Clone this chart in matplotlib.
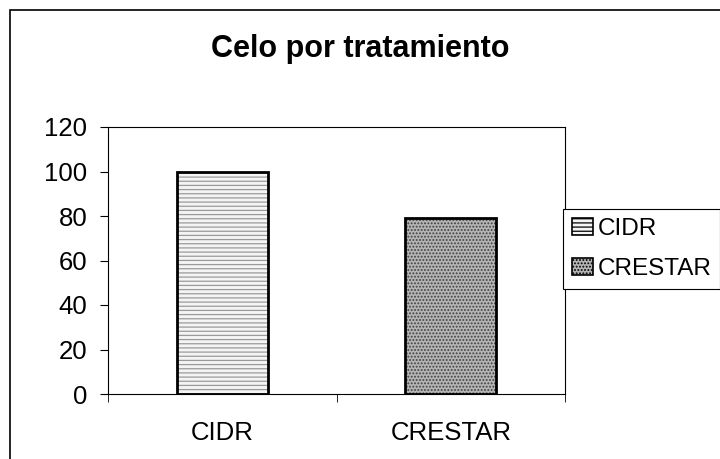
import matplotlib.pyplot as plt
from matplotlib.patches import Rectangle

categories = ['CIDR', 'CRESTAR']
values = [100, 79]
yticks = [0, 20, 40, 60, 80, 100, 120]

plt.rcParams['font.family'] = ['Liberation Sans', 'DejaVu Sans']
plt.rcParams['hatch.linewidth'] = 0.9

fig = plt.figure(figsize=(7.2, 4.59), dpi=100)
ax = fig.add_axes([108 / 720, 1 - 394 / 459, 457 / 720, 267 / 459])

x = [0, 1]
# hatched fills, then black outlines on top
ax.bar(x[0], values[0], width=0.4, color='#f4f4f4', edgecolor='#9a9a9a',
       hatch='----', linewidth=0, label=categories[0])
ax.bar(x[1], values[1], width=0.4, color='#b4b4b4', edgecolor='#404040',
       hatch='.....', linewidth=0, label=categories[1])
ax.bar(x, values, width=0.4, fill=False, edgecolor='black', linewidth=2)

ax.set_xlim(-0.5, 1.5)
ax.set_ylim(0, 120)
ax.set_yticks(yticks)
ax.set_xticks(x)
ax.set_xticklabels(categories)
ax.set_xticks([-0.5, 0.5, 1.5], minor=True)
ax.tick_params(axis='x', which='major', length=0, pad=19.5, labelsize=18.5)
ax.tick_params(axis='x', which='minor', direction='out', length=6)
ax.tick_params(axis='y', direction='out', length=6, labelsize=18.5, pad=9)
for s in ax.spines.values():
    s.set_linewidth(0.8)

fig.text(0.5, 1 - 49 / 459, 'Celo por tratamiento', ha='center',
         va='center', fontsize=22, fontweight='bold')

leg = ax.legend(loc='upper left', bbox_to_anchor=(563 / 720, 1 - 209 / 459),
                bbox_transform=fig.transFigure, borderaxespad=0,
                fontsize=17.5, handlelength=0.85, handleheight=0.7,
                handletextpad=0.2, fancybox=False, edgecolor='black',
                framealpha=1, borderpad=0.37, labelspacing=0.75)
leg.get_frame().set_linewidth(0.8)
for h in leg.legend_handles:
    h.set_edgecolor('black')
    h.set_linewidth(1.2)

fig.patches.append(Rectangle((10 / 720, -0.5), 2, 0.5 + 1 - 10 / 459,
                             fill=False, edgecolor='black', linewidth=1.2,
                             transform=fig.transFigure, figure=fig))

fig.savefig('out.png', dpi=100)
